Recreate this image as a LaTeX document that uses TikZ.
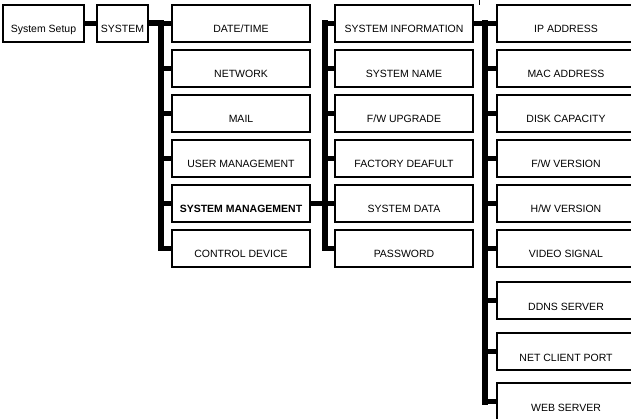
\documentclass[tikz,border=0pt]{standalone}
\usepackage{fontspec}
\setmainfont{Liberation Sans}
\usetikzlibrary{calc}
\tikzstyle{menu} = [draw, line width=1.4pt, fill=white, inner sep=0pt, minimum width=138pt, minimum height=37pt, text height=28pt, text depth=9pt, font=\fontsize{10.5}{12}\selectfont]
\tikzstyle{bus} = [line width=6pt, line cap=rect]
\tikzstyle{stub} = [line width=4.5pt]

\begin{document}
\begin{tikzpicture}[x=1pt,y=-1pt]
  \useasboundingbox (0,0) rectangle (631,419);
  \clip (0,0) rectangle (631,419);
  % bus lines
  \coordinate (b2top) at (161,23.5);
  \coordinate (b2bot) at (161,248.5);
  \coordinate (b3top) at (325,23.5);
  \coordinate (b3bot) at (325,248.5);
  \coordinate (b4top) at (485,23.5);
  \coordinate (b4bot) at (485,401.5);
  \coordinate (tick) at (479,0);
  \draw[bus] (b2top) -- (b2bot);
  \draw[bus] (b3top) -- (b3bot);
  \draw[bus] (b4top) -- (b4bot);
  \draw[line width=1pt] (tick) -- ++(0,5);
  % menus
  \node[menu, minimum width=81pt] (setup) at (43.5,23.5) {System Setup};
  \node[menu, minimum width=51pt] (sys) at (122.5,23.5) {SYSTEM};
  \foreach \n/\t [count=\i from 0] in {dt/{DATE/TIME}, net/NETWORK, mail/MAIL, user/{USER MANAGEMENT}, sysman/{\textbf{SYSTEM MANAGEMENT}}, ctrl/{CONTROL DEVICE}}{
    \pgfmathsetmacro{\y}{23.5+45*\i}
    \node[menu] (\n) at (241,\y) {\t};
    \draw[stub] (\n.west) -- (\n.west -| b2top);
  }
  \foreach \n/\t [count=\i from 0] in {info/{SYSTEM INFORMATION}, name/{SYSTEM NAME}, fwup/{F/W UPGRADE}, fact/{FACTORY DEAFULT}, data/{SYSTEM DATA}, pass/PASSWORD}{
    \pgfmathsetmacro{\y}{23.5+45*\i}
    \node[menu] (\n) at (404,\y) {\t};
    \draw[stub] (\n.west) -- (\n.west -| b3top);
  }
  \foreach \n/\t/\y in {ip/{IP ADDRESS}/23.5, mac/{MAC ADDRESS}/68.5, disk/{DISK CAPACITY}/113.5, fwver/{F/W VERSION}/158.5, hwver/{H/W VERSION}/203.5, video/{VIDEO SIGNAL}/248.5, ddns/{DDNS SERVER}/300.5, port/{NET CLIENT PORT}/351.5, web/{WEB SERVER}/401.5}{
    \node[menu] (\n) at (566,\y) {\t};
    \draw[stub] (\n.west) -- (\n.west -| b4top);
  }
  % links between levels
  \draw[stub] (setup) -- (sys);
  \draw[stub, line width=6pt] (sys.east) -- (b2top);
  \draw[stub] (sysman.east) -- (sysman.east -| b3top);
  \draw[stub] (info.east) -- (b4top);
\end{tikzpicture}
\end{document}
